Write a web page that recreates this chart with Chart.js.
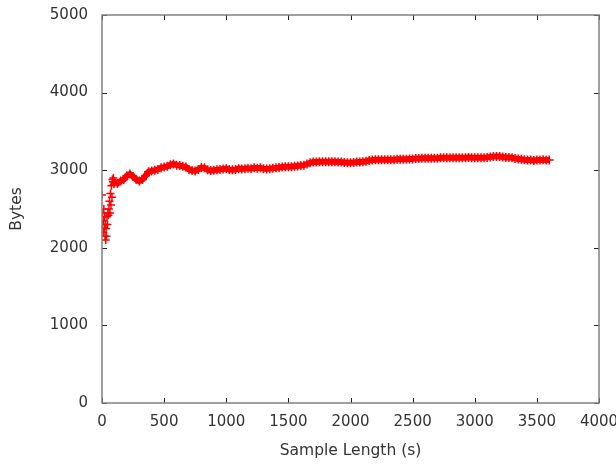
<!DOCTYPE html>
<html lang="en">
<head>
    <meta charset="UTF-8">
    <title>Bytes vs Sample Length</title>
    <script src="https://cdn.jsdelivr.net/npm/chart.js@4"></script>
    <style>
        body {
            margin: 0;
            background: #fff;
        }
        #wrap {
            width: 616px;
            height: 464px;
            position: relative;
        }
    </style>
</head>
<body>
<div id="wrap">
    <canvas id="chart"></canvas>
</div>

<script>
    // start of the run: scattered samples
    var earlySecs  = [0, 3, 6, 9, 12, 15, 18, 21, 24, 27, 30, 33, 36, 40, 44, 48, 52, 56, 60, 64, 68, 72, 76, 80, 84, 88, 92, 96];
    var earlyBytes = [2680, 2300, 2450, 2200, 2350, 2500, 2250, 2400, 2150, 2300, 2100, 2250, 2150, 2400, 2300, 2450, 2420, 2500, 2600, 2450, 2700, 2550, 2800, 2650, 2880, 2850, 2900, 2820];

    // rest of the run
    var secs = [100, 125, 150, 175, 200, 225, 250, 275, 300, 325, 350, 375, 400, 425, 450, 475, 500, 525, 550, 575,
        600, 625, 650, 675, 700, 725, 750, 775, 800, 825, 850, 875, 900, 925, 950, 975, 1000, 1025, 1050, 1075,
        1100, 1125, 1150, 1175, 1200, 1225, 1250, 1275, 1300, 1325, 1350, 1375, 1400, 1425, 1450, 1475, 1500, 1525, 1550, 1575,
        1600, 1625, 1650, 1675, 1700, 1725, 1750, 1775, 1800, 1825, 1850, 1875, 1900, 1925, 1950, 1975, 2000, 2025, 2050, 2075,
        2100, 2125, 2150, 2175, 2200, 2225, 2250, 2275, 2300, 2325, 2350, 2375, 2400, 2425, 2450, 2475, 2500, 2525, 2550, 2575,
        2600, 2625, 2650, 2675, 2700, 2725, 2750, 2775, 2800, 2825, 2850, 2875, 2900, 2925, 2950, 2975, 3000, 3025, 3050, 3075,
        3100, 3125, 3150, 3175, 3200, 3225, 3250, 3275, 3300, 3325, 3350, 3375, 3400, 3425, 3450, 3475, 3500, 3525, 3550, 3575, 3600];
    var bytes = [2850, 2830, 2860, 2880, 2930, 2950, 2920, 2880, 2860, 2880, 2930, 2980, 2990, 3000, 3010, 3030, 3040, 3050, 3070, 3080,
        3065, 3060, 3050, 3040, 3010, 2995, 2990, 3010, 3035, 3030, 3005, 2995, 3000, 3005, 3010, 3015, 3020, 3010, 3005, 3010,
        3020, 3015, 3020, 3025, 3020, 3030, 3025, 3030, 3020, 3015, 3020, 3025, 3030, 3035, 3040, 3045, 3045, 3045, 3050, 3055,
        3060, 3065, 3080, 3095, 3105, 3105, 3110, 3110, 3110, 3110, 3110, 3110, 3105, 3105, 3100, 3095, 3095, 3100, 3105, 3105,
        3110, 3115, 3125, 3130, 3135, 3135, 3135, 3135, 3135, 3135, 3135, 3140, 3140, 3140, 3140, 3145, 3145, 3150, 3150, 3155,
        3155, 3155, 3155, 3155, 3155, 3160, 3160, 3160, 3160, 3160, 3160, 3160, 3160, 3160, 3165, 3160, 3160, 3160, 3160, 3160,
        3165, 3170, 3175, 3175, 3175, 3170, 3165, 3165, 3160, 3150, 3145, 3140, 3135, 3130, 3130, 3125, 3130, 3130, 3135, 3130, 3130];

    var xTicks = [0, 500, 1000, 1500, 2000, 2500, 3000, 3500, 4000];
    var yTicks = [0, 1000, 2000, 3000, 4000, 5000];

    function pairs(xs, ys) {
        return xs.map(function (x, i) { return { x: x, y: ys[i] }; });
    }

    // gnuplot style frame: box on all four sides with inward ticks
    var framePlugin = {
        id: 'frame',
        afterDatasetsDraw: function (chart) {
            var c = chart.ctx, a = chart.chartArea;
            var xs = chart.scales.x, ys = chart.scales.y;
            c.save();
            c.lineWidth = 1;
            c.strokeStyle = '#222';
            c.beginPath();
            xTicks.forEach(function (t) {
                var px = Math.round(xs.getPixelForValue(t)) + 0.5;
                c.moveTo(px, a.bottom); c.lineTo(px, a.bottom - 5);
                c.moveTo(px, a.top); c.lineTo(px, a.top + 5);
            });
            yTicks.forEach(function (t) {
                var py = Math.round(ys.getPixelForValue(t)) + 0.5;
                c.moveTo(a.left, py); c.lineTo(a.left + 5, py);
                c.moveTo(a.right, py); c.lineTo(a.right - 5, py);
            });
            c.stroke();
            c.strokeStyle = '#808080';
            c.lineWidth = 1.5;
            c.strokeRect(a.left, a.top, a.right - a.left, a.bottom - a.top);
            c.restore();
        }
    };

    var font = { family: 'DejaVu Sans', size: 15 };
    var titleFont = { family: 'DejaVu Sans', size: 15.5 };
    var plain = function (v) { return String(v); };

    new Chart(document.getElementById('chart').getContext('2d'), {
        type: 'scatter',
        data: {
            datasets: [{
                data: pairs(earlySecs, earlyBytes),
                borderColor: '#ff0000',
                backgroundColor: '#ff0000',
                pointStyle: 'cross',
                pointRadius: 4,
                borderWidth: 1.5,
                showLine: false
            }, {
                data: pairs(secs, bytes),
                borderColor: '#ff0000',
                backgroundColor: '#ff0000',
                pointStyle: 'cross',
                pointRadius: 4.5,
                pointBorderWidth: 1.5,
                borderWidth: 6,
                showLine: true
            }]
        },
        options: {
            responsive: true,
            maintainAspectRatio: false,
            animation: false,
            layout: { padding: { left: 0, top: 15, right: 17, bottom: 0 } },
            plugins: { legend: { display: false }, tooltip: { enabled: false } },
            scales: {
                x: {
                    type: 'linear',
                    min: 0,
                    max: 4000,
                    grid: { display: false, drawTicks: false },
                    border: { display: false },
                    afterBuildTicks: function (s) { s.ticks = xTicks.map(function (v) { return { value: v }; }); },
                    afterFit: function (s) { s.height = 61; s.paddingLeft = 0; s.paddingRight = 0; },
                    ticks: { color: '#333', font: font, padding: 10, maxRotation: 0, callback: plain },
                    title: { display: true, text: 'Sample Length (s)', color: '#333', font: titleFont, padding: { top: 4, bottom: 4 } }
                },
                y: {
                    min: 0,
                    max: 5000,
                    grid: { display: false, drawTicks: false },
                    border: { display: false },
                    afterBuildTicks: function (s) { s.ticks = yTicks.map(function (v) { return { value: v }; }); },
                    afterFit: function (s) { s.width = 102; s.paddingTop = 0; s.paddingBottom = 0; },
                    ticks: { color: '#333', font: font, padding: 14, callback: plain },
                    title: { display: true, text: 'Bytes', color: '#333', font: titleFont, padding: { top: 8, bottom: 4 } }
                }
            }
        },
        plugins: [framePlugin]
    });
</script>
</body>
</html>
